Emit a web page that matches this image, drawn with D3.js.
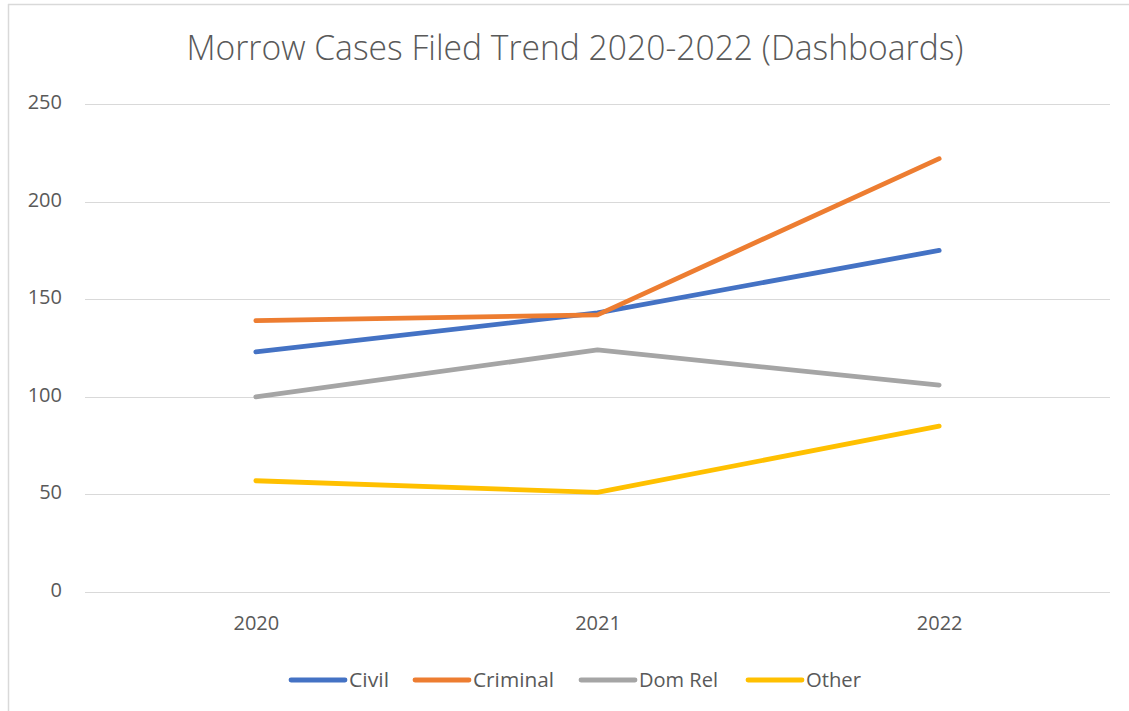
<!DOCTYPE html>
<html>
<head>
<meta charset="utf-8">
<script src="https://cdn.jsdelivr.net/npm/d3@7"></script>
<style>
  body { margin: 0; background: #fff; }
  svg { display: block; }
  svg text { font-family: "Open Sans", "Noto Sans", sans-serif; }
</style>
</head>
<body>
<svg id="chart" width="1129" height="711"></svg>
<script>
// chart data
var years = ['2020', '2021', '2022'];
var civil = [123, 143, 175];
var criminal = [139, 142, 222];
var domRel = [100, 124, 106];
var other = [57, 51, 85];
var seriesNames = ['Civil', 'Criminal', 'Dom Rel', 'Other'];
var yTicks = [0, 50, 100, 150, 200, 250];

var seriesColors = ['#4472C4', '#ED7D31', '#A5A5A5', '#FFC000'];
var seriesValues = [civil, criminal, domRel, other];

var svg = d3.select('#chart');

/*
** Frame
 */
svg.append('line')
    .attr('x1', 8).attr('y1', 4.5).attr('x2', 1129).attr('y2', 4.5)
    .attr('stroke', '#d9d9d9').attr('stroke-width', 1.5);
svg.append('line')
    .attr('x1', 8.5).attr('y1', 4).attr('x2', 8.5).attr('y2', 711)
    .attr('stroke', '#d9d9d9').attr('stroke-width', 1.5);

// plot area
var plotLeft = 85, plotRight = 1110, plotTop = 104, plotBottom = 592;

var x = d3.scalePoint()
    .domain(years)
    .range([plotLeft, plotRight])
    .padding(0.5);

var y = d3.scaleLinear()
    .domain([0, 250])
    .range([plotBottom, plotTop]);

// gridlines
svg.append('g')
    .selectAll('line')
    .data(yTicks)
    .enter().append('line')
    .attr('x1', plotLeft)
    .attr('x2', plotRight)
    .attr('y1', function (d) { return Math.round(y(d)) + 0.5; })
    .attr('y2', function (d) { return Math.round(y(d)) + 0.5; })
    .attr('stroke', '#d9d9d9')
    .attr('stroke-width', 1);

// y axis labels
var yAxis = d3.axisLeft(y).tickValues(yTicks).tickSize(0).tickPadding(0);
var gy = svg.append('g')
    .attr('transform', 'translate(62,-2)')
    .call(yAxis);
gy.select('.domain').remove();
gy.selectAll('text')
    .attr('fill', '#595959')
    .attr('font-size', 20);

// x axis labels
var xAxis = d3.axisBottom(x).tickSize(0).tickPadding(0);
var gx = svg.append('g')
    .attr('transform', 'translate(0,616)')
    .call(xAxis);
gx.select('.domain').remove();
gx.selectAll('text')
    .attr('fill', '#595959')
    .attr('font-size', 20);

/*
** Series lines
 */
var line = d3.line()
    .x(function (d, i) { return x(years[i]); })
    .y(function (d) { return y(d); });

svg.append('g')
    .selectAll('path')
    .data(seriesValues)
    .enter().append('path')
    .attr('d', function (d) { return line(d); })
    .attr('fill', 'none')
    .attr('stroke', function (d, i) { return seriesColors[i]; })
    .attr('stroke-width', 4.8)
    .attr('stroke-linecap', 'round')
    .attr('stroke-linejoin', 'round');

/*
** Title
 */
svg.append('text')
    .attr('x', 575)
    .attr('y', 60)
    .attr('text-anchor', 'middle')
    .attr('fill', '#595959')
    .attr('font-size', 34)
    .attr('font-weight', 300)
    .attr('textLength', 777)
    .attr('lengthAdjust', 'spacingAndGlyphs')
    .text('Morrow Cases Filed Trend 2020-2022 (Dashboards)');

/*
** Legend
 */
var legendX = [291, 415, 581, 748];
var legendTextW = [40, 81, 79, 55];
var legend = svg.append('g')
    .selectAll('g')
    .data(seriesNames)
    .enter().append('g')
    .attr('transform', function (d, i) { return 'translate(' + legendX[i] + ',680)'; });

legend.append('line')
    .attr('x1', 0).attr('x2', 54)
    .attr('y1', 0).attr('y2', 0)
    .attr('stroke', function (d, i) { return seriesColors[i]; })
    .attr('stroke-width', 4.8)
    .attr('stroke-linecap', 'round');

legend.append('text')
    .attr('x', 58)
    .attr('y', 7)
    .attr('fill', '#595959')
    .attr('font-size', 20)
    .attr('textLength', function (d, i) { return legendTextW[i]; })
    .attr('lengthAdjust', 'spacingAndGlyphs')
    .text(function (d) { return d; });
</script>
</body>
</html>
